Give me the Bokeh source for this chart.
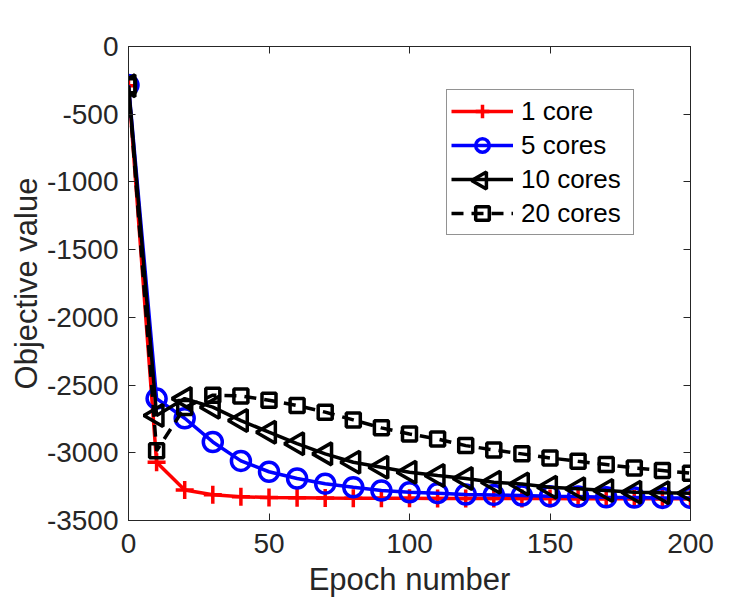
import numpy as np
from bokeh.plotting import figure
from bokeh.models import LinearAxis, Legend, FixedTicker, Range1d, CustomJSTickFormatter
from bokeh.embed import file_html
from bokeh.resources import INLINE

# Objective value per epoch for different numbers of cores
epochs = [0, 10, 20, 30, 40, 50, 60, 70, 80, 90, 100,
          110, 120, 130, 140, 150, 160, 170, 180, 190, 200]
one_core = [-290, -3070, -3275, -3310, -3325, -3330, -3332, -3334, -3335, -3336, -3336,
            -3337, -3337, -3338, -3338, -3338, -3339, -3339, -3339, -3340, -3340]
five_cores = [-285, -2600, -2745, -2920, -3060, -3140, -3190, -3228, -3254, -3279, -3291,
              -3298, -3308, -3311, -3316, -3321, -3323, -3328, -3330, -3333, -3333]
ten_cores = [-290, -2725, -2600, -2663, -2762, -2848, -2933, -3008, -3070, -3107, -3144,
             -3168, -3190, -3218, -3230, -3254, -3265, -3279, -3291, -3295, -3298]
twenty_cores = [-290, -2985, -2665, -2575, -2580, -2612, -2651, -2700, -2757, -2816, -2861,
                -2898, -2947, -2979, -3008, -3038, -3063, -3087, -3112, -3131, -3151]

x_ticks = [0, 50, 100, 150, 200]
y_ticks = [0, -500, -1000, -1500, -2000, -2500, -3000, -3500]
X_MIN, X_MAX = 0, 200
Y_MIN, Y_MAX = -3500, 0

FONT = "Liberation Sans"
AX = "#262626"

# frame geometry (pixels)
W, H = 750, 600
LEFT, RIGHT, TOP, BOTTOM = 128, 60, 46, 80
FRAME_W = W - LEFT - RIGHT
FRAME_H = H - TOP - BOTTOM

p = figure(width=W, height=H, output_backend="svg", toolbar_location=None,
           x_range=Range1d(X_MIN, X_MAX), y_range=Range1d(Y_MIN, Y_MAX),
           min_border_left=LEFT, min_border_right=RIGHT,
           min_border_top=TOP, min_border_bottom=BOTTOM,
           x_axis_label="Epoch number", y_axis_label="Objective value")
p.grid.visible = False
p.outline_line_color = AX
p.background_fill_color = "white"
p.border_fill_color = "white"

plain = CustomJSTickFormatter(code="return tick.toString();")
for ax in p.xaxis + p.yaxis:
    ax.axis_line_color = AX
    ax.major_tick_line_color = AX
    ax.major_tick_in = 7
    ax.major_tick_out = 0
    ax.minor_tick_line_color = None
    ax.formatter = plain
    ax.major_label_text_font = FONT
    ax.major_label_text_font_size = "28px"
    ax.major_label_text_color = AX
    ax.axis_label_text_font = FONT
    ax.axis_label_text_font_size = "31px"
    ax.axis_label_text_font_style = "normal"
    ax.axis_label_text_color = AX
p.xaxis.ticker = FixedTicker(ticks=x_ticks)
p.yaxis.ticker = FixedTicker(ticks=y_ticks)
p.xaxis.major_label_standoff = 13
p.yaxis.major_label_standoff = 10
p.xaxis.axis_label_standoff = 6
p.yaxis.axis_label_standoff = 0

# box axes on top and right with inward ticks
top = LinearAxis(ticker=FixedTicker(ticks=x_ticks), major_label_text_font_size="0px",
                 major_tick_in=7, major_tick_out=0, minor_tick_line_color=None,
                 axis_line_color=AX, major_tick_line_color=AX, major_label_standoff=0)
right = LinearAxis(ticker=FixedTicker(ticks=y_ticks), major_label_text_font_size="0px",
                   major_tick_in=7, major_tick_out=0, minor_tick_line_color=None,
                   axis_line_color=AX, major_tick_line_color=AX, major_label_standoff=0)
p.add_layout(top, "above")
p.add_layout(right, "right")

LW = 3.5
r1 = p.line(epochs, one_core, color="#ff0000", line_width=LW)
m1 = p.scatter(epochs, one_core, marker="cross", size=18, line_color="#ff0000",
               line_width=LW, fill_color=None)
r2 = p.line(epochs, five_cores, color="#0000ff", line_width=LW)
m2 = p.scatter(epochs, five_cores, marker="circle", size=19, line_color="#0000ff",
               line_width=LW, fill_color=None)
r3 = p.line(epochs, ten_cores, color="black", line_width=LW)
m3 = p.scatter(epochs, ten_cores, marker="triangle", size=22, angle=np.pi / 2,
               line_color="black", line_width=LW, fill_color=None)
r4 = p.line(epochs, twenty_cores, color="black", line_width=LW, line_dash="12 8")
m4 = p.scatter(epochs, twenty_cores, marker="square", size=14, line_color="black",
               line_width=LW, fill_color=None)

# legend box placement (pixels from the frame's bottom-left corner)
LEG_X, LEG_Y = 318, 285
LEG_PAD, ROW_H, KEY_W = 4, 34, 62
legend = Legend(items=[("1 core", [r1, m1]), ("5 cores", [r2, m2]),
                       ("10 cores", [r3]), ("20 cores", [r4, m4])],
                location=(LEG_X, LEG_Y), glyph_width=KEY_W, glyph_height=ROW_H,
                label_height=ROW_H, label_width=108, spacing=0, padding=LEG_PAD, margin=0,
                label_standoff=8, label_text_font=FONT, label_text_font_size="26px",
                label_text_color="black", border_line_color=AX, border_line_width=1,
                background_fill_alpha=0.0)
p.add_layout(legend, "center")

# left-pointing triangle key for the "10 cores" entry (the legend box is transparent,
# so this marker shows through it)
n_rows = 4
key_px = LEG_X + LEG_PAD + KEY_W / 2
key_py = LEG_Y + LEG_PAD + (n_rows - 3) * ROW_H + ROW_H / 2
key_x = X_MIN + key_px / FRAME_W * (X_MAX - X_MIN)
key_y = Y_MIN + key_py / FRAME_H * (Y_MAX - Y_MIN)
p.scatter([key_x], [key_y], marker="triangle", size=17, angle=np.pi / 2,
          line_color="black", line_width=LW, fill_color=None)

open("out.html", "w").write(file_html(p, INLINE))
